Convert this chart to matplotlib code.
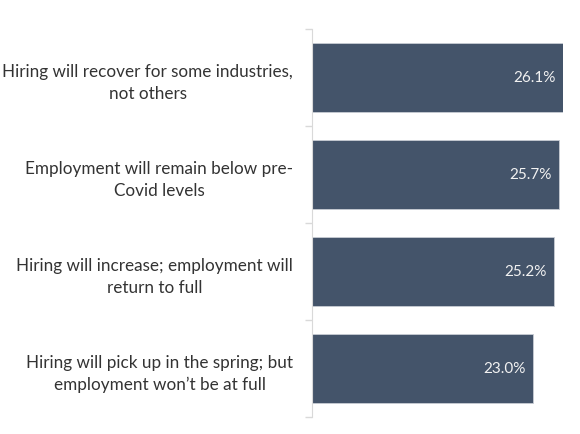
import matplotlib.pyplot as plt

plt.rcParams['font.family'] = ['Lato', 'DejaVu Sans']

labels = ['Hiring will recover for some industries,\nnot others',
          'Employment will remain below pre-\nCovid levels',
          'Hiring will increase; employment will\nreturn to full',
          "Hiring will pick up in the spring; but\nemployment won\u2019t be at full"]
values = [26.1, 25.7, 25.2, 23.0]

fig = plt.figure(figsize=(5.8, 4.35), dpi=100)
ax = fig.add_axes([312 / 580, 17 / 435, 251 / 580, 388 / 435])

pos = list(range(len(values)))
ax.barh(pos, values, height=0.71, color='#44546A', edgecolor='#c8ccd4', linewidth=0.6)
for p, v in zip(pos, values):
    ax.text(v - 0.75, p, f'{v:.1f}%', ha='right', va='center', color='#f2f2f2', fontsize=11)

ax.set_xlim(0, 26.1)
ax.set_ylim(3.5, -0.5)
ax.set_yticks(pos)
ax.set_yticklabels(labels, fontsize=12.3, color='#333333', multialignment='center', linespacing=1.45)
ax.set_yticks([-0.5, 0.5, 1.5, 2.5, 3.5], minor=True)
ax.tick_params(axis='y', which='major', length=0, pad=13.5)
ax.tick_params(axis='y', which='minor', length=5, color='#d9d9d9', width=1)
ax.set_xticks([])
for s in ['top', 'right', 'bottom']:
    ax.spines[s].set_visible(False)
ax.spines['left'].set_color('#d9d9d9')

fig.savefig('out.png', dpi=100)
